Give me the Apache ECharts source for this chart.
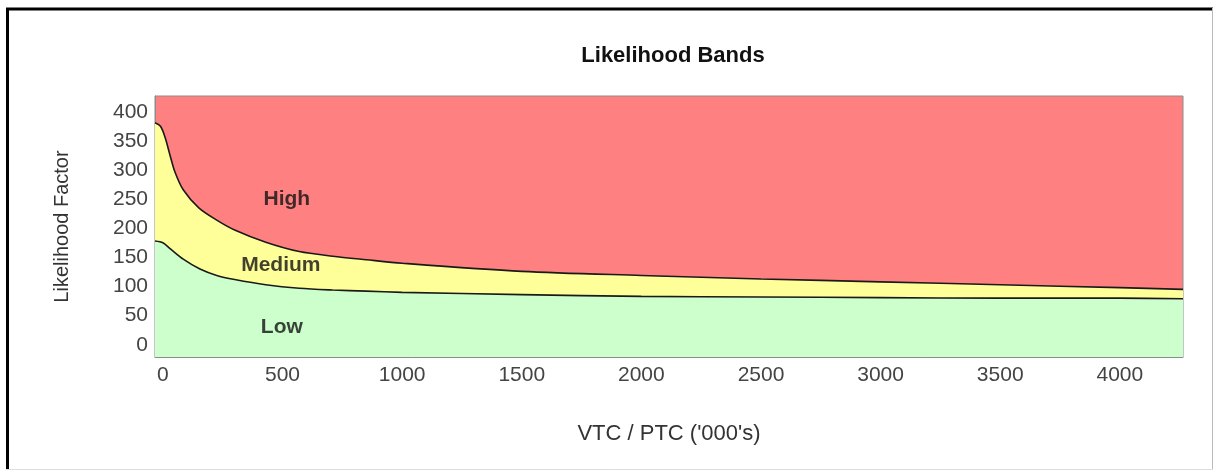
<!DOCTYPE html>
<html>
<head>
<meta charset="utf-8">
<script src="https://cdn.jsdelivr.net/npm/echarts@6/dist/echarts.min.js"></script>
<style>
  html, body { margin: 0; padding: 0; background: #ffffff; }
  #chart { width: 1215px; height: 474px; }
</style>
</head>
<body>
<div id="chart"></div>
<script>
// ---- Data ----
const titleText = 'Likelihood Bands';
const xAxisName = "VTC / PTC ('000's)";
const yAxisName = 'Likelihood Factor';
const bandNames = ['High', 'Medium', 'Low'];

// x positions ('000s) where boundaries were read
const upperX = [-33, -10, 10, 30, 50, 85, 150, 225, 300, 430, 570, 710, 850, 1000, 1500, 2000, 2500, 3000, 3500, 4000, 4264];
// Medium / High boundary
const upperY = [381, 375, 355, 325, 297, 266, 235, 214, 197, 176, 160, 152, 146, 140, 126, 119, 113, 108, 103, 98, 95];

const lowerX = [-33, 0, 30, 85, 155, 225, 300, 430, 570, 710, 850, 1000, 1500, 2000, 2500, 3000, 3500, 4000, 4264];
// Low / Medium boundary
const lowerY = [178, 175, 165, 147, 130, 119, 112, 103, 97, 94, 92, 90, 86, 83, 82, 81, 80, 80, 79];

const xTicks = [0, 500, 1000, 1500, 2000, 2500, 3000, 3500, 4000];
const yTicks = [0, 50, 100, 150, 200, 250, 300, 350, 400];

// ---- Build chart ----
const pairs = (xs, ys) => xs.map((x, i) => [x, ys[i]]);
const labelAnchors = [[518, 249], [493, 137], [497, 31]];

const chart = echarts.init(document.getElementById('chart'), null, { renderer: 'canvas' });
const font = '"Liberation Sans", Arial, sans-serif';

chart.setOption({
  animation: false,
  backgroundColor: '#ffffff',
  title: {
    text: titleText,
    left: 668, top: 40, textAlign: 'center',
    textStyle: { fontFamily: font, fontSize: 22, fontWeight: 'bold', color: '#111' }
  },
  grid: {
    left: 155, right: 32, top: 96, bottom: 117,
    show: true, backgroundColor: '#FF8080', borderColor: '#8c8c8c', borderWidth: 1
  },
  xAxis: {
    type: 'value', min: -33, max: 4264,
    name: xAxisName, nameLocation: 'middle', nameGap: 66,
    nameTextStyle: { fontFamily: font, fontSize: 22, color: '#333' },
    axisLine: { show: true, onZero: false, lineStyle: { color: '#8c8c8c', width: 1 } },
    axisTick: { show: false },
    splitLine: { show: false },
    axisLabel: { customValues: xTicks, formatter: v => String(v), fontFamily: font, fontSize: 21, color: '#444', margin: 8 }
  },
  yAxis: {
    type: 'value', min: -21, max: 427,
    name: yAxisName, nameLocation: 'middle', nameGap: 83, nameRotate: 90,
    nameTextStyle: { fontFamily: font, fontSize: 20, color: '#333' },
    axisLine: { show: true, onZero: false, lineStyle: { color: '#8c8c8c', width: 1 } },
    axisTick: { show: false },
    splitLine: { show: false },
    axisLabel: { customValues: yTicks, formatter: v => String(v), fontFamily: font, fontSize: 21, color: '#444', margin: 7 }
  },
  series: [
    {
      type: 'line', name: 'Medium',
      data: pairs(upperX, upperY),
      smooth: 0.3, showSymbol: false,
      lineStyle: { color: '#1a1a1a', width: 1.6 },
      areaStyle: { color: '#FFFF99', opacity: 1, origin: 'start' },
      z: 2
    },
    {
      type: 'line', name: 'Low',
      data: pairs(lowerX, lowerY),
      smooth: 0.3, showSymbol: false,
      lineStyle: { color: '#1a1a1a', width: 1.6 },
      areaStyle: { color: '#CCFFCC', opacity: 1, origin: 'start' },
      z: 3
    },
    {
      type: 'scatter', symbolSize: 0, z: 5,
      data: bandNames.map((n, i) => ({ name: n, value: labelAnchors[i] })),
      label: {
        show: true, position: 'inside', formatter: p => p.name,
        fontFamily: font, fontSize: 21, fontWeight: 'bold', color: '#111'
      }
    }
  ],
  graphic: [
    { type: 'line', shape: { x1: 6, y1: 9, x2: 1213, y2: 9 }, style: { stroke: '#000', lineWidth: 3 } },
    { type: 'line', shape: { x1: 7.5, y1: 8, x2: 7.5, y2: 470 }, style: { stroke: '#000', lineWidth: 3 } },
    { type: 'line', shape: { x1: 1212.5, y1: 8, x2: 1212.5, y2: 470 }, style: { stroke: '#bbb', lineWidth: 1 } },
    { type: 'line', shape: { x1: 6, y1: 469.5, x2: 1213, y2: 469.5 }, style: { stroke: '#ddd', lineWidth: 1 } }
  ]
});
</script>
</body>
</html>
